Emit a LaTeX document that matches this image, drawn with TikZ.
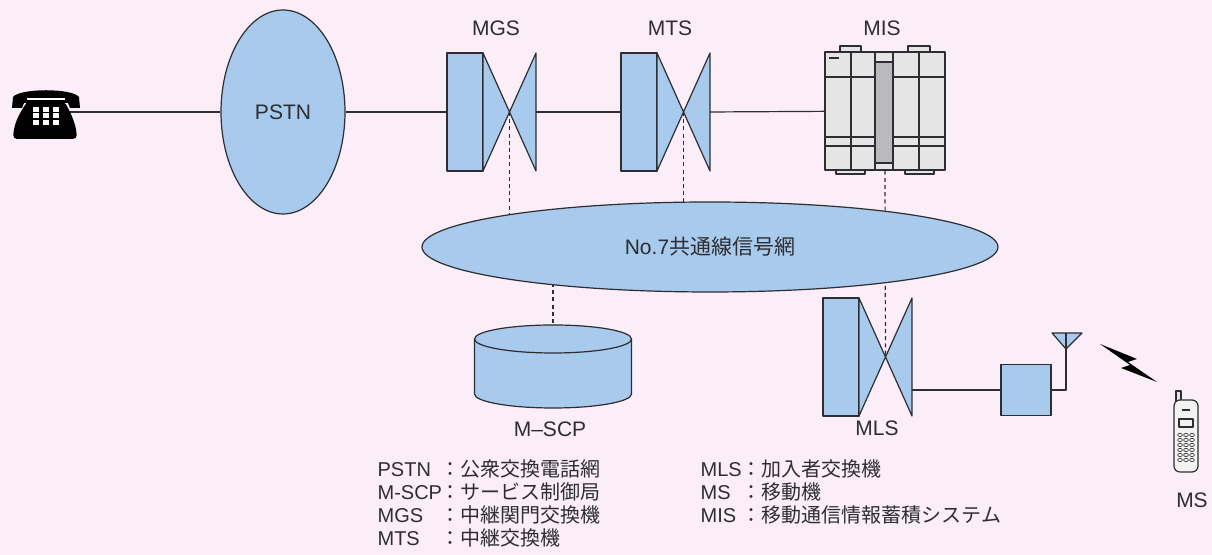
\documentclass[tikz,border=0pt]{standalone}
\usepackage{fontspec}
\setmainfont{Liberation Sans}
\newfontfamily\jp{Noto Sans CJK JP}
\usepackage{tikz}
\usetikzlibrary{positioning, shapes.geometric, backgrounds}

\definecolor{rosa}{RGB}{252,238,248}
\definecolor{azzurro}{RGB}{168,202,236}
\definecolor{grigioA}{RGB}{229,229,230}
\definecolor{grigioB}{RGB}{186,186,190}
\definecolor{linea}{RGB}{45,45,50}

\tikzset{
  blu/.style={draw=linea, fill=azzurro, line width=0.6pt},
  rete/.style={ellipse, blu, inner sep=0pt},
  tratt/.style={draw=linea, line width=0.6pt, dash pattern=on 2pt off 1.6pt},
  etich/.style={font=\fontsize{10.5}{12}\selectfont, inner sep=0pt},
  leg/.style={font=\fontsize{10}{11}\selectfont, anchor=west, inner sep=0pt},
}

% centrale: rettangolo + farfalla
\newcommand{\centrale}[3]{%
  \begin{scope}[shift={(#2,#3)}]
    \filldraw[blu] (0,-59) rectangle (36,59);
    \filldraw[blu] (36,59) -- (89,-59) -- (89,59) -- (36,-59) -- cycle;
    \coordinate (#1) at (62.5,0);
    \coordinate (#1-w) at (0,0);
    \coordinate (#1-e) at (89,0);
    \coordinate (#1-o) at (89,-33);
  \end{scope}}

% voce della legenda
\newcommand{\voce}[3]{\makebox[#1][l]{#2}{\jp ：#3}}

\begin{document}
\begin{tikzpicture}[x=0.5pt, y=0.5pt, color=linea, line width=0.6pt, line join=round]
\useasboundingbox (0,0) rectangle (1212,555);

% telefono fisso
\fill[black] (12,447) -- (13,458) .. controls (20,467) and (72,467) .. (79,458) -- (80,447) -- (70,447) -- (68,452) -- (24,452) -- (22,447) -- cycle; % cornetta
\fill[black, rounded corners=2pt] (28,454) -- (64,454) .. controls (72,440) and (76,430) .. (77,416) -- (13,416) .. controls (14,430) and (18,440) .. (28,454) -- cycle; % base
\draw[white, line width=0.6pt] (27,456) -- (65,456);
\foreach \i in {33,43,53}
  \foreach \j in {430,437,443}
    \fill[white] (\i,\j) rectangle ++(6,5);
\coordinate (tel) at (70,443);

% reti
\node[rete, etich, minimum width=62pt, minimum height=102pt] (pstn) at (283,443) {PSTN};
\node[rete, etich, minimum width=288pt, minimum height=45pt] (no7) at (710,308) {No.7{\jp 共通線信号網}};

% centrali
\centrale{mgs}{447}{443}
\centrale{mts}{621}{443}
\centrale{mls}{823}{198}

% MIS
\node[draw=linea, fill=grigioA, minimum width=60pt, minimum height=59pt, inner sep=0pt] (mis) at (885,444) {};
\filldraw[fill=grigioA] (840,503) rectangle (861,509);
\filldraw[fill=grigioA] (908,503) rectangle (930,509);
\filldraw[fill=grigioA] (836,385) rectangle (865,381);
\filldraw[fill=grigioA] (905,385) rectangle (934,381);
\filldraw[fill=grigioB] (875,392) rectangle (893,493); % colonna centrale
\foreach \x in {851,875,893,919}
  \draw (\x,385) -- (\x,503);
\foreach \y in {478,418,409} {
  \draw (825,\y) -- (875,\y);
  \draw (893,\y) -- (945,\y);
}
\draw (829,497) -- (839,497);

% M-SCP
\filldraw[blu] (474.5,216) -- (474.5,161) arc[start angle=180, end angle=360, x radius=39.25pt, y radius=7pt] -- (631.5,216) -- cycle;
\filldraw[blu] (553,216) ellipse[x radius=39.25pt, y radius=7pt];
\coordinate (scp) at (553,230);

% stazione base e antenna
\node[blu, minimum width=25pt, minimum height=25.5pt, inner sep=0pt] (bts) at (1026,165) {};
\filldraw[blu] (1052,222) -- (1082,222) -- (1066,206) -- cycle;
\coordinate (ant) at (1066,222);

% collegamenti
\draw (tel) -- (pstn);
\draw (pstn) -- (mgs-w);
\draw (mgs-e) -- (mts-w);
\draw (mts-e) -- (mis);
\draw (mls-o) -- (bts);
\draw (bts.east) -| (ant);

% fulmine
\fill[black] (1100,211) -- (1137,196) -- (1128,193) -- (1157,173) -- (1121,187) -- (1130,190) -- cycle;

% cellulare
\filldraw[fill=grigioA] (1176,153) rectangle (1181,164);
\filldraw[fill=grigioA!50!white, rounded corners=3pt] (1174,83) rectangle (1198,155);
\draw (1179,128) rectangle (1193,136);
\draw (1182,145) -- (1190,145);
\foreach \i in {1180,1186,1192}
  \foreach \j in {95,100,...,120}
    \draw[line width=0.3pt] (\i,\j) ellipse[x radius=1.2pt, y radius=0.8pt];

% etichette
\node[etich] (l-mgs) at (496,527) {MGS};
\node[etich] (l-mts) at (670,527) {MTS};
\node[etich] (l-mis) at (882,527) {MIS};
\node[etich] (l-mls) at (877,127) {MLS};
\node[etich] (l-scp) at (550,126) {M–SCP};
\node[etich] (l-ms) at (1192,55) {MS};

% legenda
\node[leg] (v1) at (377,86) {\voce{31.5pt}{PSTN}{公衆交換電話網}};
\node[leg] (v2) at (377,63) {\voce{31.5pt}{M-SCP}{サービス制御局}};
\node[leg] (v3) at (377,40) {\voce{31.5pt}{MGS}{中継関門交換機}};
\node[leg] (v4) at (377,17) {\voce{31.5pt}{MTS}{中継交換機}};
\node[leg] (v5) at (700,86) {\voce{20.6pt}{MLS}{加入者交換機}};
\node[leg] (v6) at (700,63) {\voce{20.6pt}{MS}{移動機}};
\node[leg] (v7) at (700,40) {\voce{20.6pt}{MIS}{移動通信情報蓄積システム}};

% sfondo e linee di segnalazione
\begin{pgfonlayer}{background}
  \fill[rosa] (0,0) rectangle (1212,555);
  \draw[tratt] (mgs) -- (mgs |- no7.center);
  \draw[tratt] (mts) -- (mts |- no7.center);
  \draw[tratt] (mis.south) -- (mls);
  \draw[tratt] (scp |- no7.center) -- (scp);
\end{pgfonlayer}
\end{tikzpicture}
\end{document}
